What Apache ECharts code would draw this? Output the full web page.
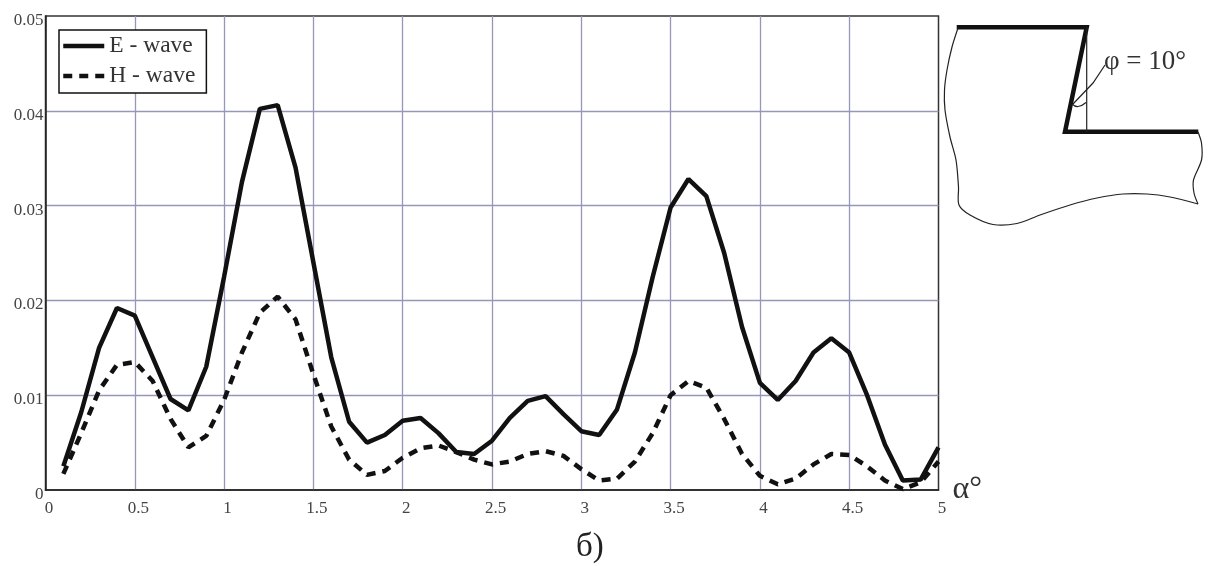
<!DOCTYPE html>
<html>
<head>
<meta charset="utf-8">
<style>html,body{margin:0;padding:0;background:#fff}#c{width:1208px;height:566px}</style>
<script src="https://cdn.jsdelivr.net/npm/echarts@6/dist/echarts.min.js"></script>
</head>
<body>
<div id="c"></div>
<script>
const alpha = [0.1,0.2,0.3,0.4,0.5,0.6,0.7,0.8,0.9,1.0,1.1,1.2,1.3,1.4,1.5,1.6,1.7,1.8,1.9,2.0,2.1,2.2,2.3,2.4,2.5,2.6,2.7,2.8,2.9,3.0,3.1,3.2,3.3,3.4,3.5,3.6,3.7,3.8,3.9,4.0,4.1,4.2,4.3,4.4,4.5,4.6,4.7,4.8,4.9,5.0];
const eWave = [.0025,.0082,.0150,.0192,.0184,.0140,.0096,.0084,.0130,.0225,.0325,.0402,.0406,.0340,.0240,.0140,.0072,.0050,.0058,.0073,.0076,.0060,.0040,.0038,.0052,.0076,.0094,.0099,.0080,.0062,.0058,.0085,.0145,.0225,.0298,.0328,.0310,.0250,.0172,.0113,.0095,.0115,.0145,.0160,.0145,.0100,.0048,.0010,.0011,.0045];
const hWave = [.0017,.0060,.0105,.0132,.0135,.0115,.0075,.0045,.0057,.0095,.0145,.0187,.0204,.0180,.0122,.0067,.0032,.0016,.0020,.0034,.0044,.0047,.0040,.0032,.0027,.0030,.0038,.0041,.0036,.0022,.0010,.0012,.0030,.0060,.0100,.0115,.0108,.0075,.0038,.0015,.0006,.0012,.0027,.0038,.0037,.0025,.0010,.0001,.0008,.0030];
const seriesNames = ['E - wave','H - wave'];
const FONT = '"Liberation Serif", serif';
const pairs = ys => alpha.map((a,i)=>[a,ys[i]]);
const chart = echarts.init(document.getElementById('c'), null, {renderer:'canvas'});
const thin = {stroke:'#222', fill:null, lineWidth:1.2};
chart.setOption({
  animation:false,
  backgroundColor:'#fff',
  title:{text:'б)', left:576, top:531, padding:0, textStyle:{fontFamily:FONT,fontSize:33,fontWeight:'normal',color:'#222'}},
  grid:{left:45.5,right:269.5,top:16,bottom:76,show:true,borderColor:'#333',borderWidth:1.5,backgroundColor:'#fff'},
  xAxis:{type:'value',min:0,max:5,interval:0.5,
    name:'α°',nameLocation:'end',nameGap:14,
    nameTextStyle:{fontFamily:FONT,fontSize:32,color:'#333',verticalAlign:'bottom',padding:[0,0,-16,0]},
    axisLine:{show:true,onZero:false,lineStyle:{color:'#222',width:1.5}},
    axisTick:{show:false},
    axisLabel:{fontFamily:FONT,fontSize:17,color:'#444',margin:10,padding:[0,0,0,7],showMinLabel:true,showMaxLabel:true,hideOverlap:false,
      formatter:v=>String(v)},
    splitLine:{show:true,showMinLine:false,showMaxLine:false,lineStyle:{color:'#9696ba',width:1.3}}},
  yAxis:{type:'value',min:0,max:0.05,interval:0.01,
    axisLine:{show:true,onZero:false,lineStyle:{color:'#222',width:1.5}},
    axisTick:{show:false},
    axisLabel:{fontFamily:FONT,fontSize:17,color:'#444',margin:2,verticalAlign:'top',lineHeight:9,showMinLabel:true,showMaxLabel:true,hideOverlap:false,
      formatter:v=>v===0?'0':v.toFixed(2)},
    splitLine:{show:true,showMinLine:false,showMaxLine:false,lineStyle:{color:'#9696ba',width:1.3}}},
  legend:{orient:'vertical',left:59,top:30,padding:[4,11,5,2],itemGap:6,itemWidth:41,itemHeight:26,
    backgroundColor:'#fff',borderColor:'#111',borderWidth:1.5,borderRadius:0,
    itemStyle:{color:'transparent',borderWidth:0,opacity:0},
    lineStyle:{width:4.5},
    textStyle:{fontFamily:FONT,fontSize:23.5,color:'#333',padding:[0,0,0,0]},
    data:seriesNames},
  series:[
    {name:seriesNames[1],type:'line',data:pairs(hWave),showSymbol:false,symbol:'none',smooth:false,z:3,
      lineStyle:{color:'#111',width:4.5,type:[9,7]},itemStyle:{color:'#111'}},
    {name:seriesNames[0],type:'line',data:pairs(eWave),showSymbol:false,symbol:'none',smooth:false,z:4,
      lineStyle:{color:'#111',width:4.5},itemStyle:{color:'#111'}}
  ],
  graphic:[
    {type:'polyline',shape:{points:[[956.7,27.3],[1086.7,27.3],[1065,131.7],[1198.3,131.7]]},style:{stroke:'#111',fill:null,lineWidth:4.5}},
    {type:'polyline',shape:{points:[[1086.7,27.3],[1086.7,131.7]]},style:thin},
    {type:'polyline',shape:{smooth:0.3,points:[[958,28],[952,47],[947,70],[944.5,90],[945,110],[950,137],[956,160],[958.5,187],[959,205],[970,215],[993,224.5],[1017,223.5],[1040,215],[1070,205],[1097,198],[1123,194],[1147,194],[1170,197],[1198,204]]},style:thin},
    {type:'polyline',shape:{smooth:0.3,points:[[1198,132],[1201.5,143],[1201.5,160],[1193.5,180],[1194,193],[1198,204]]},style:thin},
    {type:'polyline',shape:{points:[[1105,65],[1093,83],[1073,104]]},style:thin},
    {type:'polyline',shape:{smooth:0.5,points:[[1072,104],[1078,106.5],[1086,102.5]]},style:thin},
    {type:'text',left:1104,top:48,style:{text:'φ = 10°',fontFamily:FONT,fontSize:27,fill:'#333'}}
  ]
});
</script>
</body>
</html>
